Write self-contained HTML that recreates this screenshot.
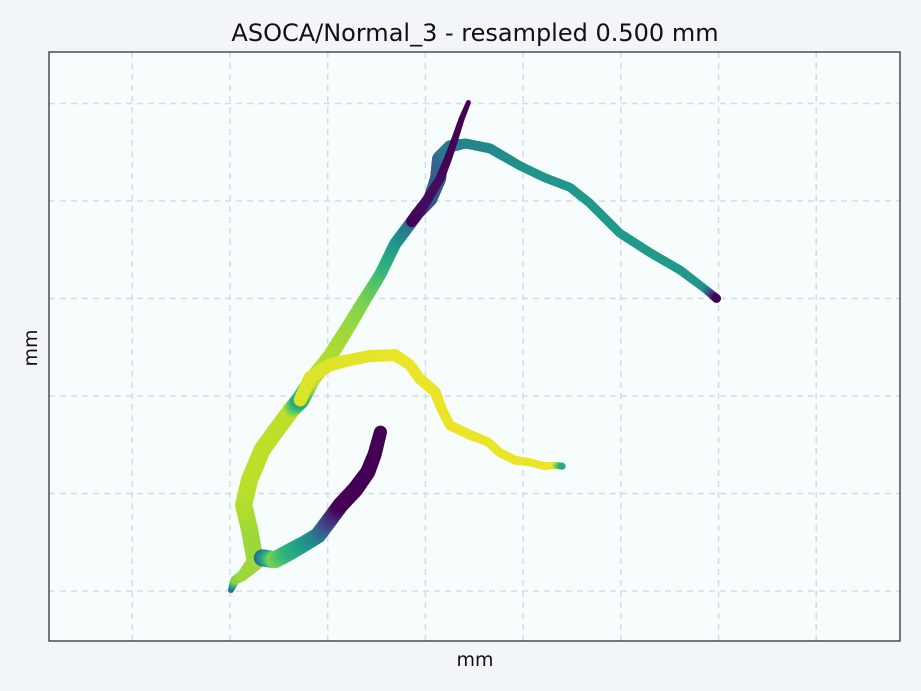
<!DOCTYPE html>
<html><head><meta charset="utf-8"><style>
html,body{margin:0;padding:0;background:#f1f5f9;}
svg{display:block;font-family:"DejaVu Sans","Liberation Sans",sans-serif;}
</style></head><body>
<svg id="chart" width="921" height="691">
<rect x="0" y="0" width="921" height="691" fill="#f2f5f9"/>
<rect x="49" y="52" width="851" height="589" fill="#f7fdfd"/>
<g id="grid"></g>
<g id="marks"></g>
<rect x="49" y="52" width="851" height="589" fill="none" stroke="#222" stroke-width="1.2"/>
<text x="475" y="41" text-anchor="middle" font-size="24" fill="#111">ASOCA/Normal_3 - resampled 0.500 mm</text>
<text x="475" y="666" text-anchor="middle" font-size="19" fill="#111">mm</text>
<text x="37" y="348" text-anchor="middle" font-size="19" fill="#111" transform="rotate(-90 37 348)">mm</text>
</svg>
<script>
// grid ticks (data units, mm)
const xTicks = [-10, 0, 10, 20, 30, 40, 50, 60];
const yTicks = [0, 10, 20, 30, 40, 50];
// branches: x, y (mm), color value (0-1 viridis), radius (px)
const b1x = [0.1,0.5,1.3,2.6,2.0,1.4,2.0,3.3,4.6,6.3,7.2,8.4,10.2,12.3,13.8,15.4,16.9,18.4,19.2,20.5,21.3,21.5,22.5,24.1,26.6,29.7,32.2,34.8,36.8,39.9,43.0,46.1,48.6,49.8];
const b1y = [0.1,1.1,1.6,3.0,6.3,8.8,11.4,14.5,16.3,18.6,19.6,21.7,24.0,27.4,29.9,32.5,35.6,37.6,38.7,40.2,42.3,44.3,45.6,45.9,45.4,43.6,42.4,41.4,39.8,36.7,34.7,32.9,31.0,30.0];
const b1c = [0.3,0.8,0.85,0.85,0.85,0.88,0.9,0.9,0.9,0.9,0.6,0.9,0.88,0.85,0.8,0.7,0.55,0.4,0.05,0.25,0.3,0.32,0.42,0.45,0.47,0.5,0.52,0.53,0.53,0.54,0.54,0.54,0.52,0.0];
const b1r = [3,4.5,5.5,8.5,8.5,8.5,8.5,8.5,8.5,8.5,9,8,7.5,7,6.5,6,6,6,6,7,8,8,6,5,5,4.5,4.5,4.5,4.5,4.5,4.5,4.5,4,4.5];
const b2x = [18.6,19.9,21.5,22.3,23.0,23.7,24.4];
const b2y = [37.9,39.7,42.3,44.3,46.3,48.4,50.1];
const b2c = [0,0.03,0.03,0,0,0,0];
const b2r = [5.5,5,4.5,4,3.5,3,2.5];
const b3x = [7.2,8.2,10.2,12.3,14.3,16.9,18.4,19.4,21.0,21.7,22.5,24.6,26.4,27.6,29.2,30.7,32.2,33.2,34.0];
const b3y = [19.6,21.9,23.2,23.7,24.1,24.2,23.2,21.8,20.4,18.6,17.0,16.0,15.3,14.2,13.4,13.2,12.8,12.9,12.8];
const b3c = [0.95,0.95,0.95,0.96,0.96,0.97,0.97,0.97,0.97,0.97,0.97,0.97,0.97,0.97,0.97,0.97,0.97,0.97,0.6];
const b3r = [6.5,6.5,6.5,6,6,6,5.5,5.5,5.5,5,5,5,4.5,4.5,4.5,4,4,3.5,3.5];
const b4x = [3.3,4.6,6.1,7.7,9.0,10.2,11.3,12.8,14.1,14.8,15.4];
const b4y = [3.4,3.2,4.0,4.9,5.7,7.3,8.8,10.4,12.2,14.0,16.3];
const b4c = [0.35,0.8,0.65,0.55,0.45,0.2,0.0,0.0,0.0,0.0,0.0];
const b4r = [8.5,8.5,8.5,8,8,8,8,8,7.5,7,6.5];

const X0 = 230, XS = 9.77, Y0 = 591, YS = 9.75;
function sx(v){ return X0 + v*XS; }
function sy(v){ return Y0 - v*YS; }

const VIR = [[68,1,84],[72,40,120],[62,74,137],[49,104,142],[38,130,142],[31,158,137],[53,183,121],[110,206,88],[181,222,43],[253,231,37]];
function viridis(t){
  t=Math.max(0,Math.min(1,t)); const p=t*(VIR.length-1); const i=Math.min(VIR.length-2,Math.floor(p)); const f=p-i;
  const c=VIR[i].map((a,k)=>Math.round(a+(VIR[i+1][k]-a)*f));
  return 'rgb('+c.join(',')+')';
}
const NS='http://www.w3.org/2000/svg';
const grid=document.getElementById('grid');
xTicks.forEach(t=>{
  const l=document.createElementNS(NS,'line');
  l.setAttribute('x1',sx(t));l.setAttribute('x2',sx(t));l.setAttribute('y1',52);l.setAttribute('y2',641);
  l.setAttribute('stroke','#d6dbe0');l.setAttribute('stroke-width','1.5');l.setAttribute('stroke-dasharray','6,5');
  
  
  grid.appendChild(l);
});
yTicks.forEach(t=>{
  const l=document.createElementNS(NS,'line');
  l.setAttribute('y1',sy(t));l.setAttribute('y2',sy(t));l.setAttribute('x1',49);l.setAttribute('x2',900);
  l.setAttribute('stroke','#d6dbe0');l.setAttribute('stroke-width','1.5');l.setAttribute('stroke-dasharray','6,5');
  
  
  grid.appendChild(l);
});
const marks=document.getElementById('marks');
function drawBranch(xs,ys,cs,rs,name){
  const g=document.createElementNS(NS,'g');
  
  
  for(let i=0;i<xs.length-1;i++){
    const x1=sx(xs[i]),y1=sy(ys[i]),x2=sx(xs[i+1]),y2=sy(ys[i+1]);
    const n=Math.max(1,Math.ceil(Math.hypot(x2-x1,y2-y1)/1.2));
    for(let k=0;k<n;k++){
      const f=k/n;
      const c=document.createElementNS(NS,'circle');
      c.setAttribute('cx',x1+(x2-x1)*f);c.setAttribute('cy',y1+(y2-y1)*f);
      c.setAttribute('r',rs[i]+(rs[i+1]-rs[i])*f);
      c.setAttribute('fill',viridis(cs[i]+(cs[i+1]-cs[i])*f));
      g.appendChild(c);
    }
  }
  const last=xs.length-1;
  const c=document.createElementNS(NS,'circle');
  c.setAttribute('cx',sx(xs[last]));c.setAttribute('cy',sy(ys[last]));c.setAttribute('r',rs[last]);c.setAttribute('fill',viridis(cs[last]));
  g.appendChild(c);
  marks.appendChild(g);
}
drawBranch(b1x,b1y,b1c,b1r,'main-trunk-branch');
drawBranch(b3x,b3y,b3c,b3r,'yellow-side-branch');
drawBranch(b4x,b4y,b4c,b4r,'lower-side-branch');
drawBranch(b2x,b2y,b2c,b2r,'upper-purple-branch');
</script>
</body></html>
